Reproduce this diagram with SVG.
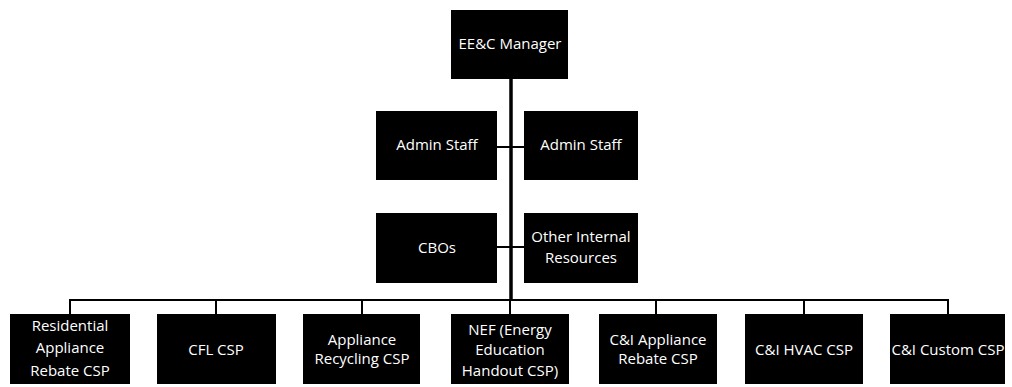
<svg xmlns="http://www.w3.org/2000/svg" width="1012" height="387" viewBox="0 0 1012 387">
<style>
.box{fill:#000;}
.t{fill:#fff;font-family:"Open Sans","Liberation Sans",sans-serif;font-size:15px;text-anchor:middle;}
.c{stroke:#000;stroke-width:2;fill:none;}
.trunk{stroke:#000;stroke-width:3.5;fill:none;}
</style>
<rect width="1012" height="387" fill="#fff"/>
<g id="connectors">
<line class="trunk" x1="511" y1="79" x2="511" y2="301"/>
<line class="c" x1="497" y1="147" x2="524" y2="147"/>
<line class="c" x1="497" y1="247" x2="524" y2="247"/>
<line class="c" x1="70" y1="300" x2="948" y2="300"/>
<line class="c" x1="70" y1="299" x2="70" y2="314"/>
<line class="c" x1="216" y1="299" x2="216" y2="314"/>
<line class="c" x1="362" y1="299" x2="362" y2="314"/>
<line class="c" x1="510" y1="299" x2="510" y2="314"/>
<line class="c" x1="656" y1="299" x2="656" y2="314"/>
<line class="c" x1="804" y1="299" x2="804" y2="314"/>
<line class="c" x1="948" y1="299" x2="948" y2="314"/>
</g>
<g id="manager">
<rect class="box" x="451" y="10" width="117" height="69"/>
<text class="t" x="510" y="49">EE&amp;C Manager</text>
</g>
<g id="admin1">
<rect class="box" x="376" y="111" width="121" height="69"/>
<text class="t" x="437" y="150">Admin Staff</text>
</g>
<g id="admin2">
<rect class="box" x="524" y="111" width="114" height="69"/>
<text class="t" x="581" y="150">Admin Staff</text>
</g>
<g id="cbos">
<rect class="box" x="376" y="213" width="121" height="70"/>
<text class="t" x="437" y="253">CBOs</text>
</g>
<g id="other">
<rect class="box" x="524" y="213" width="114" height="70"/>
<text class="t" x="581" y="242">Other Internal</text>
<text class="t" x="581" y="263">Resources</text>
</g>
<g id="residential">
<rect class="box" x="10" y="314" width="120" height="70"/>
<text class="t" x="70" y="331">Residential</text>
<text class="t" x="70" y="353">Appliance</text>
<text class="t" x="70" y="376">Rebate CSP</text>
</g>
<g id="cfl">
<rect class="box" x="157" y="314" width="119" height="70"/>
<text class="t" x="216" y="355">CFL CSP</text>
</g>
<g id="recycling">
<rect class="box" x="303" y="314" width="117" height="70"/>
<text class="t" x="362" y="345">Appliance</text>
<text class="t" x="362" y="364">Recycling CSP</text>
</g>
<g id="nef">
<rect class="box" x="451" y="314" width="118" height="70"/>
<text class="t" x="510" y="335">NEF (Energy</text>
<text class="t" x="510" y="355">Education</text>
<text class="t" x="510" y="376">Handout CSP)</text>
</g>
<g id="ci-appliance">
<rect class="box" x="599" y="314" width="118" height="70"/>
<text class="t" x="658" y="345">C&amp;I Appliance</text>
<text class="t" x="658" y="364">Rebate CSP</text>
</g>
<g id="ci-hvac">
<rect class="box" x="745" y="314" width="118" height="70"/>
<text class="t" x="804" y="355">C&amp;I HVAC CSP</text>
</g>
<g id="ci-custom">
<rect class="box" x="890" y="314" width="115" height="70"/>
<text class="t" x="948" y="355">C&amp;I Custom CSP</text>
</g>
</svg>
